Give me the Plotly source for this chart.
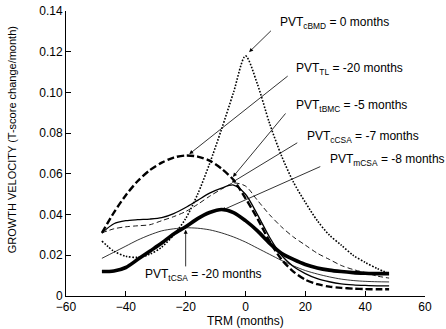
import plotly.graph_objects as go

# ---------------- data ----------------
trm = [-48, -44, -40, -36, -32, -28, -24, -20, -16, -12, -8, -4, 0,
       4, 8, 12, 16, 20, 24, 28, 32, 36, 40, 44, 48]

cbmd = [0.027, 0.022, 0.0195, 0.019, 0.0205, 0.024, 0.030, 0.038, 0.050, 0.065, 0.082, 0.100, 0.118,
        0.104, 0.085, 0.069, 0.056, 0.046, 0.037, 0.030, 0.025, 0.020, 0.0165, 0.0135, 0.011]

tl = [0.031, 0.041, 0.0495, 0.0565, 0.0618, 0.0655, 0.068, 0.069, 0.0685, 0.0665, 0.0625, 0.057, 0.048,
      0.038, 0.027, 0.018, 0.012, 0.008, 0.0058, 0.0046, 0.004, 0.0036, 0.0034, 0.0033, 0.0033]

tbmc = [0.031, 0.0355, 0.037, 0.0375, 0.0378, 0.0385, 0.0405, 0.0435, 0.047, 0.0505, 0.053, 0.0545, 0.050,
        0.040, 0.029, 0.020, 0.0145, 0.011, 0.0085, 0.007, 0.006, 0.0055, 0.0052, 0.005, 0.005]

ccsa = [0.031, 0.033, 0.034, 0.0345, 0.035, 0.037, 0.039, 0.0415, 0.045, 0.049, 0.0525, 0.0555, 0.054,
        0.047, 0.040, 0.034, 0.029, 0.025, 0.021, 0.018, 0.015, 0.013, 0.0115, 0.0098, 0.0088]

mcsa = [0.012, 0.0123, 0.014, 0.018, 0.022, 0.026, 0.0305, 0.034, 0.038, 0.041, 0.0425, 0.041, 0.037,
        0.032, 0.026, 0.021, 0.018, 0.0155, 0.0138, 0.0127, 0.012, 0.0115, 0.0112, 0.011, 0.011]

tcsa = [0.0185, 0.0215, 0.0245, 0.0275, 0.030, 0.032, 0.033, 0.0335, 0.0333, 0.0325, 0.031, 0.029, 0.0265,
        0.0235, 0.0205, 0.0175, 0.0148, 0.0125, 0.0108, 0.0094, 0.0083, 0.0076, 0.0072, 0.007, 0.0069]

x_ticks = [-60, -40, -20, 0, 20, 40, 60]
y_ticks = [0, 0.02, 0.04, 0.06, 0.08, 0.10, 0.12, 0.14]
y_tick_labels = ["0", "0.02", "0.04", "0.06", "0.08", "0.10", "0.12", "0.14"]

# labels: text, text position (x, y), arrow tail (x, y), arrow head (x, y)
labels = [
    ("PVT<sub>cBMD</sub> = 0 months", (10.7, 0.134), (9.0, 0.131), (1.2, 0.1198)),
    ("PVT<sub>TL</sub> = -20 months", (16.3, 0.1115), (14.6, 0.1086), (-18.8, 0.0697)),
    ("PVT<sub>tBMC</sub> = -5 months", (16.3, 0.0934), (13.8, 0.0904), (-4.2, 0.0585)),
    ("PVT<sub>cCSA</sub> = -7 months", (20.0, 0.0781), (17.8, 0.0757), (-4.6, 0.0557)),
    ("PVT<sub>mCSA</sub> = -8 months", (27.5, 0.0668), (25.5, 0.0639), (-8.0, 0.0420)),
]
tcsa_label = ("PVT<sub>tCSA</sub> = -20 months", (-34.4, 0.0103), (-20.0, 0.0138), (-20.0, 0.0326))

FONT = "Liberation Sans, Arial, sans-serif"

fig = go.Figure()

series = [
    (cbmd, dict(color="black", width=1.6, dash="1.6px,1.6px")),
    (tl, dict(color="black", width=2.4, dash="7px,3px")),
    (tbmc, dict(color="black", width=1.3)),
    (ccsa, dict(color="black", width=0.9, dash="5px,3px")),
    (mcsa, dict(color="black", width=3.6)),
    (tcsa, dict(color="black", width=0.8)),
]
for ys, ln in series:
    fig.add_trace(go.Scatter(x=trm, y=ys, mode="lines",
                             line=dict(shape="spline", smoothing=0.8, **ln),
                             showlegend=False, hoverinfo="skip"))

annotations = []
for text, (tx, ty), (ax, ay), (hx, hy) in labels + [tcsa_label]:
    annotations.append(dict(x=tx, y=ty, xref="x", yref="y", text=text, showarrow=False,
                            xanchor="left", yanchor="middle",
                            font=dict(family=FONT, size=12, color="black")))
    annotations.append(dict(x=hx, y=hy, ax=ax, ay=ay, xref="x", yref="y", axref="x", ayref="y",
                            text="", showarrow=True, arrowhead=2, arrowsize=1.0,
                            arrowwidth=0.8, arrowcolor="black", standoff=0))

annotations.append(dict(x=0.501, y=-0.086, xref="paper", yref="paper", text="TRM (months)",
                        showarrow=False, xanchor="center", yanchor="middle",
                        font=dict(family=FONT, size=12, color="black")))
annotations.append(dict(x=-0.150, y=0.547, xref="paper", yref="paper",
                        text="GROWTH VELOCITY (T-score change/month)", textangle=-90,
                        showarrow=False, xanchor="center", yanchor="middle",
                        font=dict(family=FONT, size=11, color="black")))

fig.update_layout(
    width=446, height=329,
    margin=dict(l=66, r=21, t=11, b=33, autoexpand=False),
    paper_bgcolor="white", plot_bgcolor="white",
    showlegend=False,
    font=dict(family=FONT, size=12, color="black"),
    annotations=annotations,
    xaxis=dict(range=[-60, 60], tickvals=x_ticks, ticks="inside", ticklen=5, tickwidth=1,
               tickcolor="black", showline=True, linecolor="black", linewidth=1, automargin=False,
               showgrid=False, zeroline=False, tickfont=dict(family=FONT, size=12, color="black")),
    yaxis=dict(range=[0, 0.14], tickvals=y_ticks, ticktext=y_tick_labels, ticks="inside",
               ticklen=5, tickwidth=1, tickcolor="black", showline=True, linecolor="black",
               linewidth=1, showgrid=False, zeroline=False, automargin=False,
               tickfont=dict(family=FONT, size=12, color="black")),
)

fig.write_html("out.html", config={"displayModeBar": False},
               post_script="document.body.style.margin='0';document.body.style.padding='0';"
                           "document.body.style.overflow='hidden';")
